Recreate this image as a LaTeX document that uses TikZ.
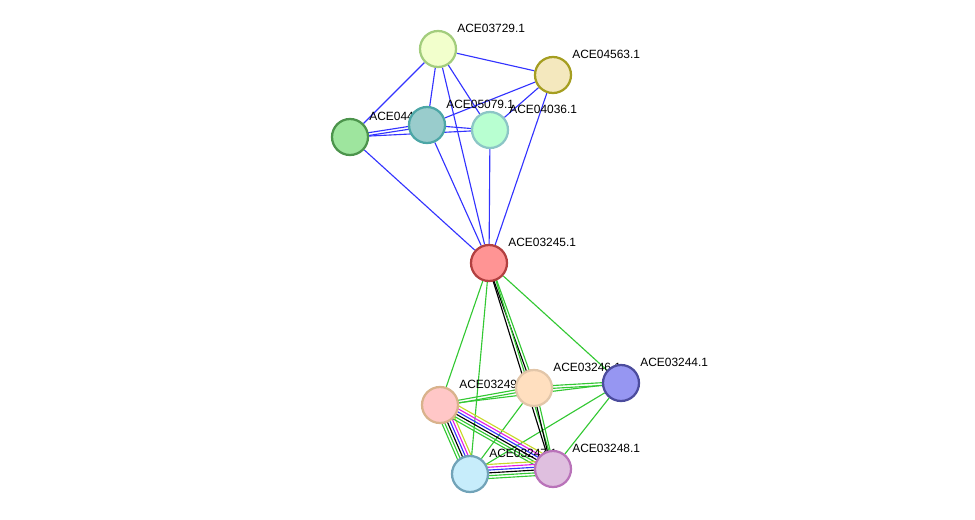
\documentclass[tikz,border=0pt]{standalone}
\usepackage{fontspec}
\setmainfont{Liberation Sans}
\usetikzlibrary{calc,backgrounds}
\definecolor{edgeblue}{RGB}{51,51,255}
\definecolor{edgegreen}{RGB}{51,200,51}
\definecolor{edgepink}{RGB}{230,30,230}
\definecolor{edgeyellow}{RGB}{200,215,40}

% parallel edge: from, to, offset, colour
\newcommand{\paredge}[4]{%
  \draw[link, #4] ($(#1)!#3!90:(#2)$) -- ($(#2)!#3!-90:(#1)$);}

\begin{document}
\begin{tikzpicture}[x=0.025cm, y=-0.025cm,
    prot/.style={circle, minimum size=0.9cm, inner sep=0pt, line width=1.6pt},
    link/.style={line width=0.8pt},
    tag/.style={font=\fontsize{8.5}{10}\selectfont, anchor=west, inner sep=0pt}
]
\useasboundingbox (0,0) rectangle (975,520);

% proteins with their tags
\newcommand{\protein}[5]{%
  \node[prot, fill=#4, draw=#5] (#1) at (#2) {};
  \node[tag] (#1t) at ($(#2)+(19,-21)$) {#3};}

\protein{p3729}{438,49}{ACE03729.1}{lime!20!white}{olive!40!green!50}
\protein{p4563}{553,75}{ACE04563.1}{yellow!40!brown!30!white}{olive!80!white}
\protein{p044}{350,137}{ACE04446.1}{green!35!white!80!gray}{green!40!black!70}
\protein{p5079}{427,125}{ACE05079.1}{teal!40!white}{teal!70!white}
\protein{p4036}{490,130}{ACE04036.1}{green!20!white!90!cyan}{teal!45!white}
\protein{p3245}{489,263}{ACE03245.1}{red!42!white}{red!60!black!75}
\protein{p3249}{440,405}{ACE03249.1}{red!22!white}{brown!60!white}
\protein{p3246}{534,388}{ACE03246.1}{orange!25!white}{brown!45!white}
\protein{p3244}{621,383}{ACE03244.1}{blue!40!white!90!gray}{blue!45!black!70}
\protein{p3247}{470,474}{ACE03247.1}{cyan!22!white}{cyan!40!gray}
\protein{p3248}{553,469}{ACE03248.1}{violet!25!white}{violet!55!white}

% links behind the proteins
\begin{scope}[on background layer]
% upper cluster
\foreach \a/\b in {p3729/p4563, p3729/p044, p3729/p5079, p3729/p4036, p3729/p3245,
    p4563/p5079, p4563/p4036, p4563/p3245, p044/p4036, p044/p3245,
    p5079/p4036, p5079/p3245, p4036/p3245}
  \draw[link, edgeblue] (\a) -- (\b);
\paredge{p044}{p5079}{1pt}{edgeblue}
\paredge{p044}{p5079}{-1pt}{edgeblue}
% lower cluster
\foreach \a/\b in {p3245/p3249, p3245/p3247, p3245/p3244, p3249/p3244,
    p3246/p3247, p3244/p3247, p3244/p3248}
  \draw[link, edgegreen] (\a) -- (\b);
\foreach \a/\b in {p3245/p3246, p3245/p3248, p3246/p3248}{
  \paredge{\a}{\b}{1pt}{edgegreen}
  \paredge{\a}{\b}{-1pt}{black}}
\foreach \a/\b in {p3249/p3246, p3246/p3244}{
  \paredge{\a}{\b}{1pt}{edgegreen}
  \paredge{\a}{\b}{-1pt}{edgegreen}}
\foreach \a/\b in {p3249/p3247, p3249/p3248, p3247/p3248}{
  \paredge{\a}{\b}{-4pt}{edgegreen}
  \paredge{\a}{\b}{-2pt}{edgegreen}
  \paredge{\a}{\b}{0pt}{black}
  \paredge{\a}{\b}{2pt}{edgeblue}
  \paredge{\a}{\b}{4pt}{edgepink}
  \paredge{\a}{\b}{6pt}{edgeyellow}}
\end{scope}
\end{tikzpicture}
\end{document}
